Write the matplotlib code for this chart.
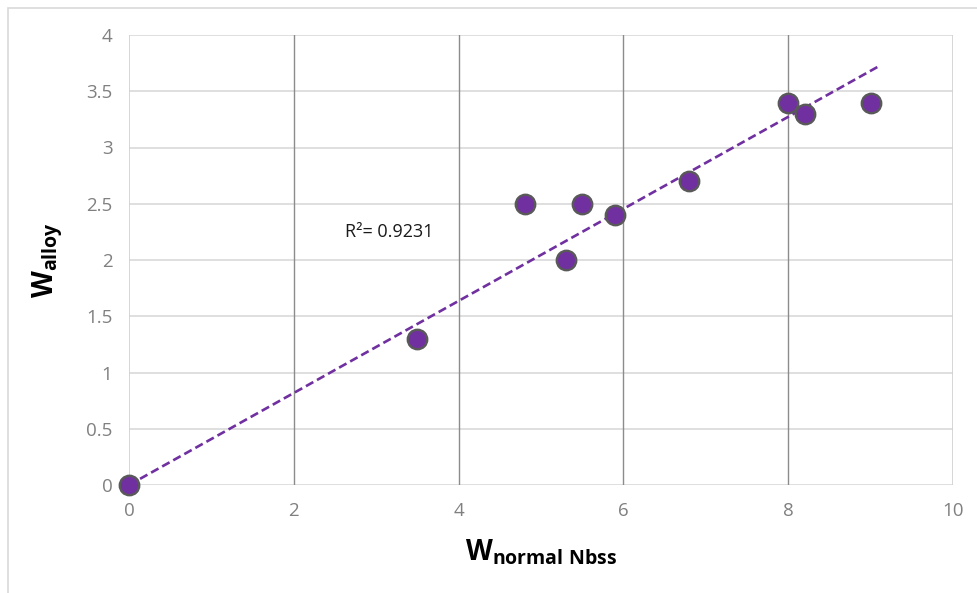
import matplotlib
matplotlib.use("Agg")
import matplotlib.pyplot as plt
import matplotlib.patches as patches
import numpy as np

# data points
w_nbss = [0.0, 3.5, 4.8, 5.3, 5.5, 5.9, 6.8, 8.0, 8.2, 9.0]
w_alloy = [0.0, 1.3, 2.5, 2.0, 2.5, 2.4, 2.7, 3.4, 3.3, 3.4]
r2_label = "R\u00b2= 0.9231"
x_ticks = [0, 2, 4, 6, 8, 10]
y_ticks = [0, 0.5, 1, 1.5, 2, 2.5, 3, 3.5, 4]

purple = "#7030A0"

plt.rcParams['font.family'] = ['Open Sans', 'DejaVu Sans']
plt.rcParams['mathtext.fontset'] = 'custom'
plt.rcParams['mathtext.rm'] = 'Open Sans'
plt.rcParams['mathtext.bf'] = 'Open Sans:bold'

fig = plt.figure(figsize=(9.78, 5.93), dpi=100)
ax = fig.add_axes([129 / 978, 1 - 485 / 593, (953 - 129) / 978, (485 - 35) / 593])

# outer chart frame (runs off the right and bottom edges)
frame = patches.Rectangle((8 / 978, -0.05), 1.1, 1 - 8 / 593 + 0.05,
                          transform=fig.transFigure, fill=False,
                          edgecolor="#d9d9d9", linewidth=1.2)
fig.patches.append(frame)

# gridlines: light horizontal, darker vertical
for yv in y_ticks:
    ax.axhline(yv, color="#d9d9d9", linewidth=1.2, zorder=0)
for xv in x_ticks[1:-1]:
    ax.axvline(xv, color="#8c8c8c", linewidth=1.0, zorder=0)
ax.axvline(0, color="#d0d0d0", linewidth=1.2, zorder=0)
ax.axvline(10, color="#d0d0d0", linewidth=1.2, zorder=0)

# trendline through origin
xs = np.array(w_nbss)
ys = np.array(w_alloy)
slope = (xs * ys).sum() / (xs * xs).sum()
x_fit = np.array([0, 9.1])
ax.plot(x_fit, slope * x_fit, color=purple, linestyle=(0, (3.2, 1.6)),
        linewidth=1.9, zorder=2)

ax.plot(w_nbss, w_alloy, 'o', markersize=14, markerfacecolor=purple,
        markeredgecolor="#595959", markeredgewidth=1.7, zorder=3,
        clip_on=False)

ax.text(2.62, 2.25, r2_label, fontsize=13, color="#1a1a1a",
        va='center', ha='left')

ax.set_xlim(0, 10)
ax.set_ylim(0, 4)
ax.set_xticks(x_ticks)
ax.set_yticks(y_ticks)
ax.set_yticklabels(["0", "0.5", "1", "1.5", "2", "2.5", "3", "3.5", "4"])
ax.tick_params(length=0, labelsize=13.5, labelcolor="#808080", pad=12)
for s in ax.spines.values():
    s.set_visible(False)

fig.text(541 / 978, 1 - 552 / 593, r'$\mathbf{W}_{\mathbf{normal\ Nbss}}$',
         fontsize=20, ha='center', va='center', color='black')
fig.text(48 / 978, 1 - 260 / 593, r'$\mathbf{W}_{\mathbf{alloy}}$',
         fontsize=20, ha='center', va='center', color='black', rotation=90)

fig.savefig("out.png", dpi=100)
